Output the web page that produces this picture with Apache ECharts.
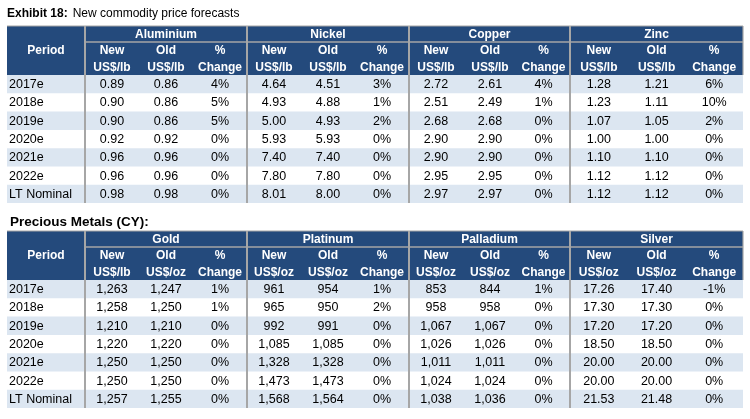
<!DOCTYPE html>
<html>
<head>
<meta charset="utf-8">
<script src="https://cdn.jsdelivr.net/npm/echarts@6/dist/echarts.min.js"></script>
<style>
html,body{margin:0;padding:0;background:#fff;}
#chart{width:750px;height:419px;}
</style>
</head>
<body>
<div id="chart"></div>
<script>
// ---------------- DATA ----------------
const periods = ['2017e', '2018e', '2019e', '2020e', '2021e', '2022e', 'LT Nominal'];

const baseMetals = ['Aluminium', 'Nickel', 'Copper', 'Zinc'];
const aluminiumNew = [0.89, 0.90, 0.90, 0.92, 0.96, 0.96, 0.98];
const aluminiumOld = [0.86, 0.86, 0.86, 0.92, 0.96, 0.96, 0.98];
const aluminiumChg = [4, 5, 5, 0, 0, 0, 0];
const nickelNew = [4.64, 4.93, 5.00, 5.93, 7.40, 7.80, 8.01];
const nickelOld = [4.51, 4.88, 4.93, 5.93, 7.40, 7.80, 8.00];
const nickelChg = [3, 1, 2, 0, 0, 0, 0];
const copperNew = [2.72, 2.51, 2.68, 2.90, 2.90, 2.95, 2.97];
const copperOld = [2.61, 2.49, 2.68, 2.90, 2.90, 2.95, 2.97];
const copperChg = [4, 1, 0, 0, 0, 0, 0];
const zincNew = [1.28, 1.23, 1.07, 1.00, 1.10, 1.12, 1.12];
const zincOld = [1.21, 1.11, 1.05, 1.00, 1.10, 1.12, 1.12];
const zincChg = [6, 10, 2, 0, 0, 0, 0];

const preciousMetals = ['Gold', 'Platinum', 'Palladium', 'Silver'];
const goldNew = [1263, 1258, 1210, 1220, 1250, 1250, 1257];
const goldOld = [1247, 1250, 1210, 1220, 1250, 1250, 1255];
const goldChg = [1, 1, 0, 0, 0, 0, 0];
const platinumNew = [961, 965, 992, 1085, 1328, 1473, 1568];
const platinumOld = [954, 950, 991, 1085, 1328, 1473, 1564];
const platinumChg = [1, 2, 0, 0, 0, 0, 0];
const palladiumNew = [853, 958, 1067, 1026, 1011, 1024, 1038];
const palladiumOld = [844, 958, 1067, 1026, 1011, 1024, 1036];
const palladiumChg = [1, 0, 0, 0, 0, 0, 0];
const silverNew = [17.26, 17.30, 17.20, 18.50, 20.00, 20.00, 21.53];
const silverOld = [17.40, 17.30, 17.20, 18.50, 20.00, 20.00, 21.48];
const silverChg = [-1, 0, 0, 0, 0, 0, 0];

// sub-header labels: [new, old, change]
const baseUnits = [['New\nUS$/lb', 'Old\nUS$/lb', '%\nChange'], ['New\nUS$/lb', 'Old\nUS$/lb', '%\nChange'], ['New\nUS$/lb', 'Old\nUS$/lb', '%\nChange'], ['New\nUS$/lb', 'Old\nUS$/lb', '%\nChange']];
const preciousUnits = [['New\nUS$/lb', 'Old\nUS$/oz', '%\nChange'], ['New\nUS$/oz', 'Old\nUS$/oz', '%\nChange'], ['New\nUS$/oz', 'Old\nUS$/oz', '%\nChange'], ['New\nUS$/oz', 'Old\nUS$/oz', '%\nChange']];

const titleBold = 'Exhibit 18:';
const titleText = 'New commodity price forecasts';
const title2 = 'Precious Metals (CY):';
const periodHeader = 'Period';

// ---------------- FORMAT ----------------
function fmt2(v) { return v.toFixed(2); }
function fmtInt(v) { return String(Math.round(v)).replace(/\B(?=(\d{3})+(?!\d))/g, ','); }
function fmtPct(v) { return v + '%'; }

// ---------------- LAYOUT ----------------
const colWidths = [78, 54, 54, 54, 54, 54, 54, 54, 54, 53, 57.7, 57.7, 57.6];
const colEdges = [0];
colWidths.forEach(w => colEdges.push(colEdges[colEdges.length - 1] + w));
const TABLE_W = colEdges[colEdges.length - 1];
const H0 = 16, H1 = 33, ROW_H = 18.3;
const TABLE_H = H0 + H1 + periods.length * ROW_H;
const HDR_BG = '#244a7c', BAND = '#dce6f1', LINE = '#a6a6a6';

function buildCells(groupNames, units, cols) {
  const cells = [];
  const hdrBottom = H0 + H1;
  cells.push({ k: 'rect', x0: 0, y0: 0, x1: TABLE_W, y1: hdrBottom, fill: HDR_BG });
  periods.forEach((p, r) => {
    if (r % 2 === 0) cells.push({ k: 'rect', x0: 0, y0: hdrBottom + r * ROW_H, x1: TABLE_W, y1: hdrBottom + (r + 1) * ROW_H, fill: BAND });
  });
  cells.push({ k: 'text', x0: 0, y0: 0, x1: colEdges[1], y1: hdrBottom, text: periodHeader, hdr: true });
  groupNames.forEach((g, gi) => {
    const c0 = 1 + gi * 3;
    cells.push({ k: 'text', x0: colEdges[c0], y0: 0, x1: colEdges[c0 + 3], y1: H0, text: g, hdr: true });
    for (let j = 0; j < 3; j++) {
      cells.push({ k: 'text', x0: colEdges[c0 + j], y0: H0, x1: colEdges[c0 + j + 1], y1: hdrBottom, text: units[gi][j], hdr: true });
    }
  });
  periods.forEach((p, r) => {
    const y0 = hdrBottom + r * ROW_H, y1 = y0 + ROW_H;
    cells.push({ k: 'text', x0: colEdges[0], y0, x1: colEdges[1], y1, text: p, left: true });
    cols.forEach((col, ci) => {
      cells.push({ k: 'text', x0: colEdges[ci + 1], y0, x1: colEdges[ci + 2], y1, text: col.f(col.v[r]) });
    });
  });
  // lines
  cells.push({ k: 'line', x0: 0, y0: 0, x1: TABLE_W, y1: 0, w: 1.2 });
  cells.push({ k: 'line', x0: colEdges[1], y0: H0, x1: TABLE_W, y1: H0, w: 1.5 });
  cells.push({ k: 'line', x0: TABLE_W, y0: 0, x1: TABLE_W, y1: hdrBottom, w: 1.2 });
  [1, 4, 7, 10].forEach(ci => {
    cells.push({ k: 'line', x0: colEdges[ci], y0: 0, x1: colEdges[ci], y1: TABLE_H, w: 2 });
  });
  return cells;
}

const baseCols = [
  { v: aluminiumNew, f: fmt2 }, { v: aluminiumOld, f: fmt2 }, { v: aluminiumChg, f: fmtPct },
  { v: nickelNew, f: fmt2 }, { v: nickelOld, f: fmt2 }, { v: nickelChg, f: fmtPct },
  { v: copperNew, f: fmt2 }, { v: copperOld, f: fmt2 }, { v: copperChg, f: fmtPct },
  { v: zincNew, f: fmt2 }, { v: zincOld, f: fmt2 }, { v: zincChg, f: fmtPct }
];
const preciousCols = [
  { v: goldNew, f: fmtInt }, { v: goldOld, f: fmtInt }, { v: goldChg, f: fmtPct },
  { v: platinumNew, f: fmtInt }, { v: platinumOld, f: fmtInt }, { v: platinumChg, f: fmtPct },
  { v: palladiumNew, f: fmtInt }, { v: palladiumOld, f: fmtInt }, { v: palladiumChg, f: fmtPct },
  { v: silverNew, f: fmt2 }, { v: silverOld, f: fmt2 }, { v: silverChg, f: fmtPct }
];

const cells1 = buildCells(baseMetals, baseUnits, baseCols);
const cells2 = buildCells(preciousMetals, preciousUnits, preciousCols);

function makeRender(cells) {
  return function (params, api) {
    const c = cells[params.dataIndex];
    const p0 = api.coord([api.value(0), api.value(1)]);
    const p1 = api.coord([api.value(2), api.value(3)]);
    if (c.k === 'rect') {
      return { type: 'rect', shape: { x: p0[0], y: p0[1], width: p1[0] - p0[0], height: p1[1] - p0[1] }, style: { fill: c.fill } };
    }
    if (c.k === 'line') {
      return { type: 'line', shape: { x1: p0[0], y1: p0[1], x2: p1[0], y2: p1[1] }, style: { stroke: LINE, lineWidth: c.w } };
    }
    const cx = c.left ? p0[0] + 2 : (p0[0] + p1[0]) / 2;
    const cy = (p0[1] + p1[1]) / 2;
    return {
      type: 'text',
      style: {
        x: cx, y: cy + 0.5, text: c.text,
        fill: c.hdr ? '#ffffff' : '#000000',
        font: (c.hdr ? 'bold 12px' : '12.5px') + ' "Liberation Sans", Arial, sans-serif',
        align: c.left ? 'left' : 'center', verticalAlign: 'middle',
        lineHeight: 17
      }
    };
  };
}

function seriesFor(cells, idx) {
  return {
    type: 'custom', xAxisIndex: idx, yAxisIndex: idx, clip: false, silent: true,
    renderItem: makeRender(cells),
    encode: { x: [0, 2], y: [1, 3] },
    data: cells.map(c => [c.x0, c.y0, c.x1, c.y1])
  };
}

const chart = echarts.init(document.getElementById('chart'), null, { renderer: 'canvas' });
chart.setOption({
  animation: false,
  backgroundColor: '#ffffff',
  title: [
    {
      left: 7, top: 5, padding: 0,
      text: '{b|' + titleBold + '} {n|' + titleText + '}',
      textStyle: {
        rich: {
          b: { fontFamily: 'Liberation Sans', fontWeight: 'bold', fontSize: 12, color: '#000', lineHeight: 14 },
          n: { fontFamily: 'Liberation Sans', fontWeight: 'normal', fontSize: 12, color: '#000', lineHeight: 14 }
        }
      }
    },
    {
      left: 10, top: 214, padding: 0, text: title2,
      textStyle: { fontFamily: 'Liberation Sans', fontWeight: 'bold', fontSize: 13.5, color: '#000', lineHeight: 16 }
    }
  ],
  grid: [
    { left: 7, top: 26, width: TABLE_W, height: TABLE_H, containLabel: false },
    { left: 7, top: 231, width: TABLE_W, height: TABLE_H, containLabel: false }
  ],
  xAxis: [
    { type: 'value', gridIndex: 0, min: 0, max: TABLE_W, show: false },
    { type: 'value', gridIndex: 1, min: 0, max: TABLE_W, show: false }
  ],
  yAxis: [
    { type: 'value', gridIndex: 0, min: 0, max: TABLE_H, inverse: true, show: false },
    { type: 'value', gridIndex: 1, min: 0, max: TABLE_H, inverse: true, show: false }
  ],
  series: [seriesFor(cells1, 0), seriesFor(cells2, 1)]
});
</script>
</body>
</html>
